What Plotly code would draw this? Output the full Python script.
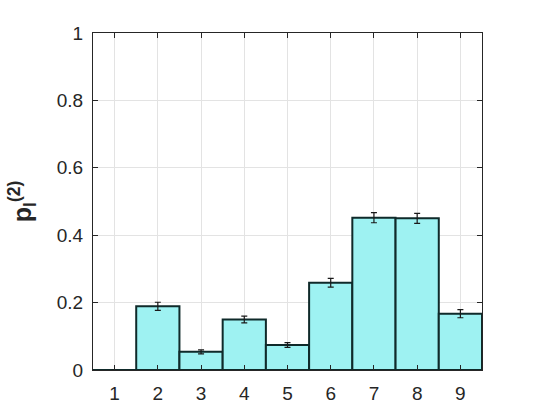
import plotly.graph_objects as go

categories = [1, 2, 3, 4, 5, 6, 7, 8, 9]
values = [0.0, 0.189, 0.054, 0.150, 0.074, 0.259, 0.452, 0.450, 0.167]
errors = [0.0, 0.012, 0.006, 0.010, 0.007, 0.013, 0.015, 0.015, 0.012]
y_ticks = [0, 0.2, 0.4, 0.6, 0.8, 1]
y_tick_labels = ["0", "0.2", "0.4", "0.6", "0.8", "1"]

fig = go.Figure()
fig.add_trace(go.Bar(
    x=categories, y=values, width=1,
    marker=dict(color="#9ef2f2", line=dict(color="#0f2a2a", width=2)),
    error_y=dict(type="data", array=errors, color="#1a1a1a", thickness=1.2, width=3),
))

axis_common = dict(
    showline=True, linecolor="#262626", linewidth=1, mirror="ticks",
    ticks="inside", ticklen=5, tickcolor="#262626",
    showgrid=True, gridcolor="#e3e3e3", gridwidth=1, zeroline=False,
    tickfont=dict(family="Liberation Sans, Arial", size=19, color="#262626"),
)
fig.update_xaxes(range=[0.5, 9.5], tickvals=categories, ticklabelstandoff=6, **axis_common)
fig.update_yaxes(range=[0, 1], tickvals=y_ticks, ticktext=y_tick_labels, ticklabelstandoff=5, **axis_common)

fig.update_layout(
    width=534, height=415,
    margin=dict(l=93, r=52, t=33, b=45),
    plot_bgcolor="white", paper_bgcolor="white",
    showlegend=False,
    yaxis_title=dict(text="<b>p<sub>l</sub><sup>(2)</sup></b>",
                     font=dict(family="Liberation Sans, Arial", size=25, color="#262626"),
                     standoff=18),
)
fig.write_html("out.html")
